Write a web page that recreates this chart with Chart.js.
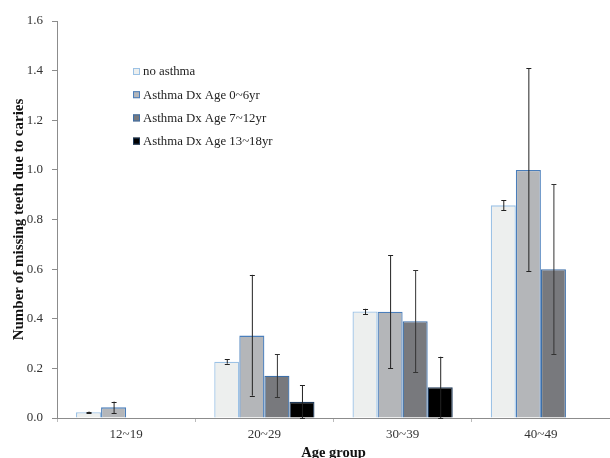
<!DOCTYPE html>
<html>
<head>
<meta charset="utf-8">
<script src="https://cdn.jsdelivr.net/npm/chart.js@4"></script>
<style>
  html, body { margin: 0; padding: 0; background: #fff; }
  #wrap { width: 610px; height: 458px; }
</style>
</head>
<body>
<div id="wrap"><canvas id="chart" width="610" height="458"></canvas></div>
<script>
  const ageGroups = ["12~19", "20~29", "30~39", "40~49"];
  const seriesNames = ["no asthma", "Asthma Dx Age 0~6yr", "Asthma Dx Age 7~12yr", "Asthma Dx Age 13~18yr"];
  const noAsthma = [0.023, 0.227, 0.429, 0.857];
  const dx0to6 = [0.043, 0.332, 0.428, 1.0];
  const dx7to12 = [null, 0.17, 0.39, 0.6];
  const dx13to18 = [null, 0.065, 0.124, null];
  // error bar ends (low, high)
  const noAsthmaErr = [[0.02, 0.026], [0.219, 0.236], [0.418, 0.44], [0.837, 0.877]];
  const dx0to6Err = [[0.02, 0.066], [0.09, 0.577], [0.2, 0.656], [0.591, 1.41]];
  const dx7to12Err = [null, [0.083, 0.257], [0.184, 0.595], [0.258, 0.942]];
  const dx13to18Err = [null, [0, 0.132], [0, 0.247], null];
  const yTicks = [0, 0.2, 0.4, 0.6, 0.8, 1.0, 1.2, 1.4, 1.6];

  const serif = "'Liberation Serif', 'Times New Roman', serif";
  const fills = ["#edefee", "#b4b6b9", "#78797d", "#000000"];
  const borders = ["#9cc2e5", "#4a7ebb", "#3d6fa8", "#1f3a5a"];
  const errColors = ["#222", "#222", "#333", "#222"];
  const allErr = [noAsthmaErr, dx0to6Err, dx7to12Err, dx13to18Err];
  const allValues = [noAsthma, dx0to6, dx7to12, dx13to18];

  const errorBars = {
    id: "errorBars",
    afterDatasetsDraw(chart) {
      const ctx = chart.ctx;
      const y = chart.scales.y;
      ctx.save();
      chart.data.datasets.forEach((ds, di) => {
        const meta = chart.getDatasetMeta(di);
        allErr[di].forEach((e, i) => {
          if (!e) return;
          const x = meta.data[i].x;
          const y0 = y.getPixelForValue(e[0]);
          const y1 = y.getPixelForValue(e[1]);
          ctx.strokeStyle = errColors[di];
          ctx.lineWidth = 1;
          ctx.beginPath();
          ctx.moveTo(x + 0.5, y0);
          ctx.lineTo(x + 0.5, y1);
          ctx.moveTo(x - 2, Math.round(y0) + 0.5);
          ctx.lineTo(x + 3, Math.round(y0) + 0.5);
          ctx.moveTo(x - 2, Math.round(y1) + 0.5);
          ctx.lineTo(x + 3, Math.round(y1) + 0.5);
          ctx.stroke();
        });
      });
      ctx.restore();
    },
  };

  const boxLegend = {
    id: "boxLegend",
    afterDraw(chart) {
      const ctx = chart.ctx;
      ctx.save();
      ctx.font = "12.8px " + serif;
      ctx.textBaseline = "middle";
      chart.data.datasets.forEach((ds, i) => {
        const cy = 71 + i * 23.2;
        ctx.fillStyle = fills[i];
        ctx.fillRect(133, cy - 3, 7, 7);
        ctx.strokeStyle = borders[i];
        ctx.lineWidth = 1;
        ctx.strokeRect(133.5, cy - 2.5, 6, 6);
        ctx.fillStyle = "#222";
        ctx.fillText(ds.label, 143, cy + 1);
      });
      ctx.restore();
    },
  };

  new Chart(document.getElementById("chart"), {
    type: "bar",
    data: {
      labels: ageGroups,
      datasets: seriesNames.map((name, i) => ({
        label: name,
        data: allValues[i],
        backgroundColor: fills[i],
        borderColor: borders[i],
        borderWidth: 1.3,
        categoryPercentage: 0.725,
        barPercentage: 1.0,
      })),
    },
    options: {
      responsive: false,
      animation: false,
      layout: { padding: { top: 21, right: 0, left: 0, bottom: 0 } },
      plugins: { legend: { display: false }, tooltip: { enabled: false } },
      scales: {
        x: {
          afterFit: (s) => { s.height = 40; },
          grid: {
            offset: true,
            drawOnChartArea: false,
            drawTicks: true,
            tickLength: 4,
            color: "#bbb",
          },
          border: { color: "#8c8c8c", width: 1 },
          ticks: { color: "#333", font: { family: serif, size: 13 }, padding: 5 },
          title: {
            display: true,
            text: "Age group",
            color: "#111",
            font: { family: serif, size: 14.5, weight: "bold" },
            padding: { top: 0, bottom: -4 },
          },
        },
        y: {
          min: 0,
          max: 1.6,
          afterFit: (s) => { s.width = 57; },
          afterBuildTicks: (s) => { s.ticks = yTicks.map((v) => ({ value: v })); },
          grid: { drawOnChartArea: false, drawTicks: true, tickLength: 5, color: "#8c8c8c" },
          border: { color: "#8c8c8c", width: 1 },
          ticks: {
            color: "#333",
            font: { family: serif, size: 13 },
            padding: 9,
            callback: (v) => Number(v).toFixed(1),
          },
          title: {
            display: true,
            text: "Number of missing teeth due to caries",
            color: "#111",
            font: { family: serif, size: 15, weight: "bold" },
            padding: { top: 10, bottom: 0 },
          },
        },
      },
    },
    plugins: [errorBars, boxLegend],
  });
</script>
</body>
</html>
